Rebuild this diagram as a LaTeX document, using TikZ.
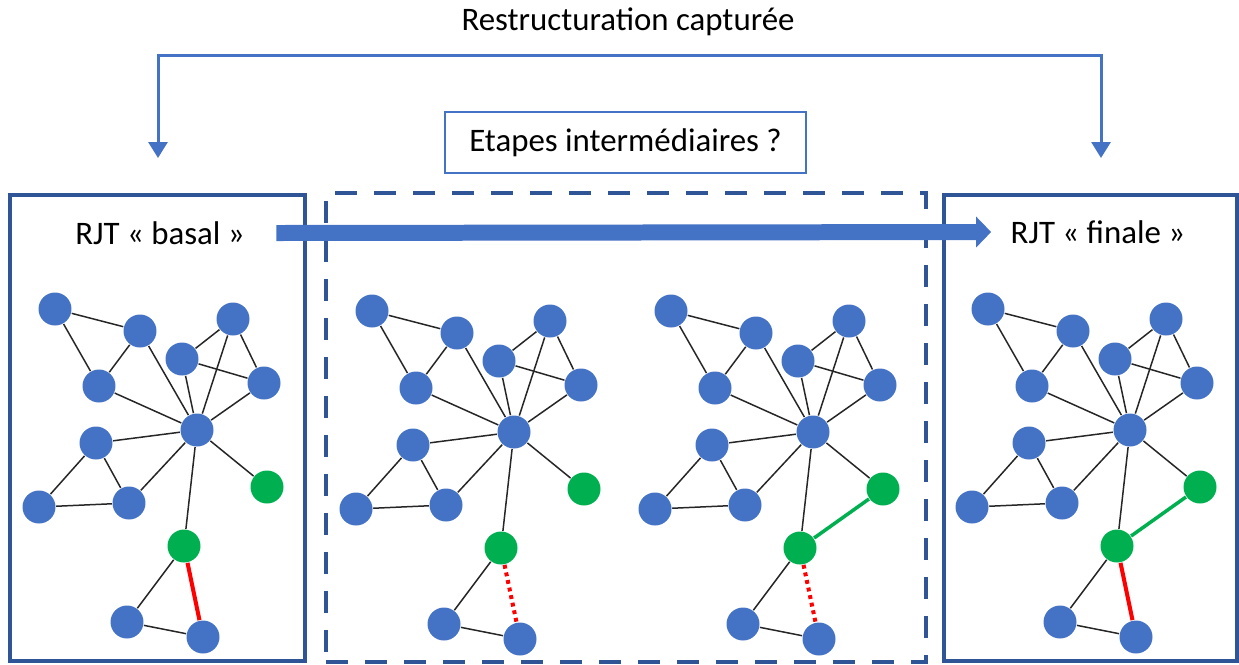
\documentclass[tikz,border=0pt]{standalone}
\usepackage{fontspec}
\setmainfont{Carlito}
\usetikzlibrary{arrows.meta, positioning}
\definecolor{cnode}{HTML}{4472C4}
\definecolor{cgreen}{HTML}{00B050}
\definecolor{cred}{HTML}{FF0000}
\definecolor{cframe}{HTML}{2F5597}
\tikzset{
  every picture/.style={line width=0.85pt},
  vert/.style={circle, fill=#1, inner sep=0pt, minimum size=0.66cm},
  vert/.default=cnode,
  link/.style={draw=black!85, line width=0.85pt},
  cut/.style={draw=cred, line width=2.3pt},
  cutdot/.style={draw=cred, line width=2.3pt, dash pattern=on 2.2pt off 2.2pt},
  newlink/.style={draw=cgreen, line width=2pt},
  frame/.style={draw=cframe, line width=0.09cm, inner sep=0pt},
  label/.style={font=\fontsize{18.7}{22}\selectfont},
  stepsbox/.style={label, draw=cnode, line width=1.2pt, minimum width=7.22cm, minimum height=1.22cm},
  bigarrow/.style={-{Triangle[length=0.3cm, width=0.6cm]}, draw=cnode, line width=0.32cm},
  bracket/.style={{Triangle[length=0.32cm, width=0.38cm]}-{Triangle[length=0.32cm, width=0.38cm]}, draw=cnode, line width=0.06cm},
}
% one RJT graph: prefix, shift, extra edges
\newcommand{\rjtgraph}[3]{%
  \begin{scope}[shift={#2}]
    \foreach \n/\p in {a/{55,309}, b/{140,331}, c/{233,319}, d/{182,359}, e/{99,386},
        f/{264,383}, h/{197,430}, g/{96,443}, i/{39,507}, j/{129,503}, p/{127,622}, q/{203,637}}
      \node[vert] (#1-\n) at (\p) {};
    \foreach \n/\p in {k/{267,487}, m/{184,546}}
      \node[vert=cgreen] (#1-\n) at (\p) {};
    \foreach \s/\t in {a/b, a/e, b/e, b/h, d/c, d/f, c/f, c/h, d/h, f/h, e/h,
        g/h, g/i, g/j, i/j, j/h, h/k, h/m, m/p, p/q}
      \draw[link] (#1-\s) -- (#1-\t);
    #3
  \end{scope}}

\begin{document}
\begin{tikzpicture}[x=0.02cm, y=-0.02cm]
  \useasboundingbox (0,0) rectangle (1239,664);

  % frames
  \node[frame, minimum width=5.9cm, minimum height=9.32cm] (basalbox) at (157.5,428) {};
  \node[frame, dash pattern=on 0.44cm off 0.34cm, minimum width=12cm, minimum height=9.38cm] (midbox) at (626,427.5) {};
  \node[frame, minimum width=5.86cm, minimum height=9.32cm] (finalbox) at (1090.5,428) {};

  % titles
  \node[label] (title) at (628,22) {Restructuration capturée};
  \node[stepsbox] (steps) at (625.5,142.5) {Etapes intermédiaires ?};
  \node[label] (basal) at (160,233) {RJT « basal »};
  \node[label] (finale) at (1098,232) {RJT « finale »};

  % bracket over the steps
  \coordinate (ltip) at (158,158);
  \coordinate (ltop) at (158,55);
  \coordinate (rtip) at (1101,158);
  \draw[bracket] (ltip) -- (ltop) -| (rtip);

  \draw[bigarrow] ([xshift=0.5cm]basal.east) -- ([xshift=-0.26cm]finale.west);

  % graphs
  \rjtgraph{bas}{(0,0)}{\draw[cut] (bas-m) -- (bas-q);}
  \rjtgraph{mia}{(317,2)}{\draw[cutdot] (mia-m) -- (mia-q);}
  \rjtgraph{mib}{(616,2)}{\draw[cutdot] (mib-m) -- (mib-q); \draw[newlink] (mib-m) -- (mib-k);}
  \rjtgraph{fin}{(933,0)}{\draw[cut] (fin-m) -- (fin-q); \draw[newlink] (fin-m) -- (fin-k);}
\end{tikzpicture}
\end{document}
